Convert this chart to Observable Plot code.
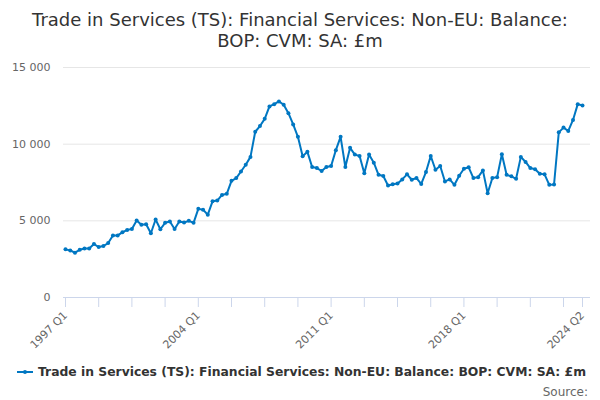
<!DOCTYPE html>
<html>
<head>
<meta charset="utf-8">
<script src="https://cdn.jsdelivr.net/npm/d3@7"></script>
<script src="https://cdn.jsdelivr.net/npm/@observablehq/plot@0.6"></script>
<style>
  html, body { margin: 0; padding: 0; background: #fff; }
  body { width: 600px; height: 400px; overflow: hidden; font-family: "DejaVu Sans", sans-serif; }
  #title { box-sizing: border-box; height: 55px; padding-top: 9px; text-align: center; font-size: 18px; line-height: 21px; color: #333; }
  #chart svg { display: block; }
  #legend { position: relative; height: 45px; }
  #legend .item { position: absolute; left: 17px; top: 10px; display: flex; align-items: center; font-size: 12.35px; font-weight: bold; color: #333; white-space: nowrap; }
  #legend .source { position: absolute; right: 12px; top: 30px; font-size: 12px; color: #666; }
</style>
</head>
<body>
<div id="title">Trade in Services (TS): Financial Services: Non-EU: Balance:<br>BOP: CVM: SA: £m</div>
<div id="chart"></div>
<div id="legend">
  <div class="item"><svg width="21" height="12" style="margin-right:0"><line x1="0" y1="6" x2="16" y2="6" stroke="#0077c2" stroke-width="2"/><circle cx="8" cy="6" r="2" fill="#0077c2"/></svg><span id="seriesName"></span></div>
  <div class="source">Source:</div>
</div>
<script>
const seriesName = "Trade in Services (TS): Financial Services: Non-EU: Balance: BOP: CVM: SA: £m";
const startYear = 1997;
const quarterNames = ["Q1", "Q2", "Q3", "Q4"];
const values = [
  3140, 3070, 2920, 3110,   // 1997
  3200, 3200, 3490, 3290,   // 1998
  3360, 3550, 4040, 4050,   // 1999
  4250, 4410, 4470, 5020,   // 2000
  4740, 4780, 4190, 5090,   // 2001
  4450, 4870, 4960, 4470,   // 2002
  4960, 4890, 5000, 4870,   // 2003
  5780, 5730, 5400, 6270,   // 2004
  6320, 6690, 6760, 7610,   // 2005
  7790, 8220, 8660, 9170,   // 2006
  10810, 11180, 11650, 12460, // 2007
  12610, 12790, 12570, 12020, // 2008
  11290, 10480, 9210, 9500, // 2009
  8510, 8440, 8250, 8510,   // 2010
  8580, 9610, 10480, 8510,  // 2011
  9760, 9320, 9230, 8110,   // 2012
  9320, 8790, 8000, 7920,   // 2013
  7300, 7390, 7430, 7700,   // 2014
  8030, 7680, 7790, 7410,   // 2015
  8180, 9230, 8330, 8580,   // 2016
  7570, 7700, 7350, 7940,   // 2017
  8400, 8490, 7790, 7850,   // 2018
  8290, 6800, 7790, 7850,   // 2019
  9340, 8000, 7900, 7740,   // 2020
  9170, 8840, 8440, 8360,   // 2021
  8070, 8030, 7350, 7370,   // 2022
  10770, 11080, 10860, 11580, // 2023
  12610, 12520              // 2024
];
const labelledPeriods = ["1997 Q1", "2004 Q1", "2011 Q1", "2018 Q1", "2024 Q2"];
const yTicks = [0, 5000, 10000, 15000];
const tickEvery = 7;
const lineColor = "#0077c2";

document.getElementById("seriesName").textContent = seriesName;

const periods = values.map((v, i) => `${startYear + Math.floor(i / 4)} ${quarterNames[i % 4]}`);
const data = values.map((value, i) => ({ i, period: periods[i], value }));
const n = values.length;
const xTicks = d3.range(0, n, tickEvery);
if (xTicks[xTicks.length - 1] !== n - 1) xTicks.push(n - 1);
const labelSet = new Set(labelledPeriods);
const fmtY = d => d3.format(",")(d).replace(/,/g, " ");

const chart = Plot.plot({
  width: 600,
  height: 300,
  marginTop: 12,
  marginBottom: 58,
  marginLeft: 65,
  marginRight: 18,
  style: { fontFamily: "DejaVu Sans", fontSize: "11px", background: "white" },
  x: { type: "linear", domain: [0, n - 1], label: null },
  y: { domain: [0, 15000], label: null },
  marks: [
    Plot.ruleY(yTicks.filter(d => d > 0), { stroke: "#e6e6e6", strokeWidth: 1, insetLeft: -2, insetRight: -8 }),
    Plot.axisY({ ticks: yTicks, tickSize: 0, tickPadding: 15, tickFormat: fmtY, fill: "#666", fontSize: 11, label: null }),
    Plot.ruleY([0], { stroke: "#ccd6eb", strokeWidth: 1, insetLeft: -2, insetRight: -8 }),
    Plot.axisX({ ticks: xTicks, tickSize: 10, stroke: "#ccd6eb", strokeOpacity: 1, tickPadding: 6, label: null,
      tickFormat: i => labelSet.has(periods[i]) ? periods[i] : "", tickRotate: -45, fill: "#666", fontSize: 11 }),
    Plot.line(data, { x: "i", y: "value", stroke: lineColor, strokeWidth: 2 }),
    Plot.dot(data, { x: "i", y: "value", fill: lineColor, r: 2 })
  ]
});
document.getElementById("chart").appendChild(chart);
</script>
</body>
</html>
